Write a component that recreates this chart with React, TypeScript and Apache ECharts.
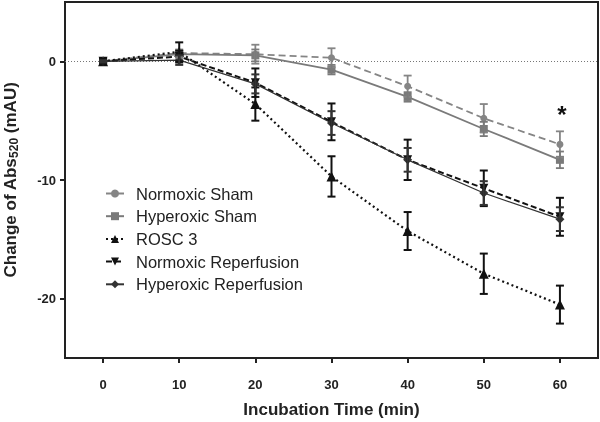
import React, { useEffect, useRef } from "react";
import * as echarts from "echarts";

const times = [0, 10, 20, 30, 40, 50, 60];
const seriesNames = ["Normoxic Sham", "Hyperoxic Sham", "ROSC 3", "Normoxic Reperfusion", "Hyperoxic Reperfusion"];
const normoxicSham = [0, 0.7, 0.6, 0.3, -2.1, -4.8, -7.0];
const normoxicShamErr = [0.1, 0.3, 0.8, 0.8, 0.9, 1.2, 1.1];
const hyperoxicSham = [0, 0.6, 0.5, -0.7, -3.0, -5.7, -8.3];
const hyperoxicShamErr = [0.1, 0.3, 0.5, 0.4, 0.4, 0.6, 0.7];
const rosc3 = [0, 0.8, -3.6, -9.7, -14.3, -17.9, -20.5];
const rosc3Err = [0.2, 0.8, 1.4, 1.7, 1.6, 1.7, 1.6];
const normoxicReperfusion = [0, 0.4, -1.8, -5.1, -8.3, -10.7, -13.1];
const normoxicReperfusionErr = [0.1, 0.5, 1.2, 1.55, 1.7, 1.5, 1.6];
const hyperoxicReperfusion = [0, 0.1, -1.9, -5.2, -8.3, -11.1, -13.3];
const hyperoxicReperfusionErr = [0.1, 0.4, 0.8, 1.0, 1.0, 1.0, 1.0];
const xTicks = [0, 10, 20, 30, 40, 50, 60];
const yTicks = [-20, -10, 0];
const significanceMark = { x: 60, y: -4.3, text: "*" };

const FONT = "Liberation Sans";

export default function App() {
  const ref = useRef<HTMLDivElement>(null);
  useEffect(() => {
    if (!ref.current) return;
    const chart = echarts.init(ref.current, undefined, { renderer: "svg" });

    const colors = ["#858585", "#7a7a7a", "#111111", "#111111", "#333333"];
    const values = [normoxicSham, hyperoxicSham, rosc3, normoxicReperfusion, hyperoxicReperfusion];
    const errs = [normoxicShamErr, hyperoxicShamErr, rosc3Err, normoxicReperfusionErr, hyperoxicReperfusionErr];
    const symbols = ["circle", "rect", "triangle", "triangle", "diamond"];
    const symbolSizes = [7, 8, 10, 9, 9];
    const symbolRotates = [0, 0, 0, 180, 0];
    const lineTypes: any[] = [[7, 4], "solid", [2, 3], [6, 3], "solid"];
    const lineWidths = [1.8, 1.8, 2.2, 2, 1.2];
    const errWidths = [1.8, 1.8, 2, 2, 2];

    const lineSeries = seriesNames.map((name, i) => ({
      name,
      type: "line",
      data: times.map((t, j) => [t, values[i][j]]),
      symbol: symbols[i],
      symbolSize: symbolSizes[i],
      symbolRotate: symbolRotates[i],
      itemStyle: { color: colors[i] },
      lineStyle: { color: colors[i], type: lineTypes[i], width: lineWidths[i] },
      z: 3,
      ...(i === 0
        ? {
            markLine: {
              silent: true,
              symbol: "none",
              label: { show: false },
              lineStyle: { color: "#777", type: [1, 2], width: 1 },
              data: [{ yAxis: 0 }],
              z: 1,
            },
            markPoint: {
              symbol: "circle",
              symbolSize: 0,
              data: [{ coord: [significanceMark.x, significanceMark.y], value: significanceMark.text }],
              label: {
                show: true,
                formatter: significanceMark.text,
                color: "#111",
                fontSize: 24,
                fontWeight: "bold",
                fontFamily: FONT,
                position: "inside",
                offset: [2, 2],
              },
            },
          }
        : {}),
    }));

    const errSeries = seriesNames.map((name, i) => ({
      name: name + " SEM",
      type: "custom",
      data: times.map((t, j) => [t, values[i][j] - errs[i][j], values[i][j] + errs[i][j]]),
      encode: { x: 0, y: [1, 2] },
      z: 4,
      renderItem: (params: any, api: any) => {
        const x = api.value(0);
        const lo = api.coord([x, api.value(1)]);
        const hi = api.coord([x, api.value(2)]);
        const w = 4;
        const style = { stroke: colors[i], lineWidth: errWidths[i] };
        return {
          type: "group",
          children: [
            { type: "line", shape: { x1: lo[0], y1: lo[1], x2: hi[0], y2: hi[1] }, style },
            { type: "line", shape: { x1: hi[0] - w, y1: hi[1], x2: hi[0] + w, y2: hi[1] }, style },
            { type: "line", shape: { x1: lo[0] - w, y1: lo[1], x2: lo[0] + w, y2: lo[1] }, style },
          ],
        };
      },
    }));

    chart.setOption({
      animation: false,
      textStyle: { fontFamily: FONT },
      grid: {
        left: 65,
        right: 2,
        top: 2,
        bottom: 64,
        outerBoundsMode: "none",
        containLabel: false,
        show: true,
        borderColor: "#222",
        borderWidth: 2,
        backgroundColor: "transparent",
      },
      legend: {
        data: seriesNames,
        orient: "vertical",
        left: 100,
        top: 180,
        itemWidth: 18,
        itemHeight: 10,
        itemGap: 5.7,
        textStyle: { fontSize: 16.5, color: "#222", fontFamily: FONT, lineHeight: 16, padding: [0, 0, 0, 7] },
      },
      xAxis: {
        type: "value",
        min: -5,
        max: 65,
        name: "Incubation Time (min)",
        nameLocation: "middle",
        nameGap: 43,
        nameTextStyle: { fontSize: 17, fontWeight: "bold", color: "#222", fontFamily: FONT },
        axisLine: { show: true, onZero: false, lineStyle: { color: "#222", width: 2 } },
        axisTick: { show: true, customValues: xTicks, length: 5, lineStyle: { color: "#222", width: 2 } },
        axisLabel: { customValues: xTicks, margin: 20, fontSize: 13, fontWeight: "bold", color: "#222", fontFamily: FONT },
        splitLine: { show: false },
      },
      yAxis: {
        type: "value",
        min: -25,
        max: 5,
        name: "{a|Change of Abs}{s|520}{a| (mAU)}",
        nameLocation: "middle",
        nameGap: 45,
        nameTextStyle: {
          rich: {
            a: { fontSize: 17, fontWeight: "bold", color: "#222", fontFamily: FONT, lineHeight: 20 },
            s: { fontSize: 12, fontWeight: "bold", color: "#222", fontFamily: FONT, verticalAlign: "bottom", lineHeight: 12 },
          },
        },
        axisLine: { show: true, onZero: false, lineStyle: { color: "#222", width: 2 } },
        axisTick: { show: true, customValues: yTicks, length: 5, lineStyle: { color: "#222", width: 2 } },
        axisLabel: { customValues: yTicks, margin: 9, fontSize: 13, fontWeight: "bold", color: "#222", fontFamily: FONT },
        splitLine: { show: false },
      },
      series: [...lineSeries, ...errSeries],
    });
    return () => chart.dispose();
  }, []);
  return <div ref={ref} style={{ width: 600, height: 422, position: "fixed", left: 0, top: 0 }} />;
}
